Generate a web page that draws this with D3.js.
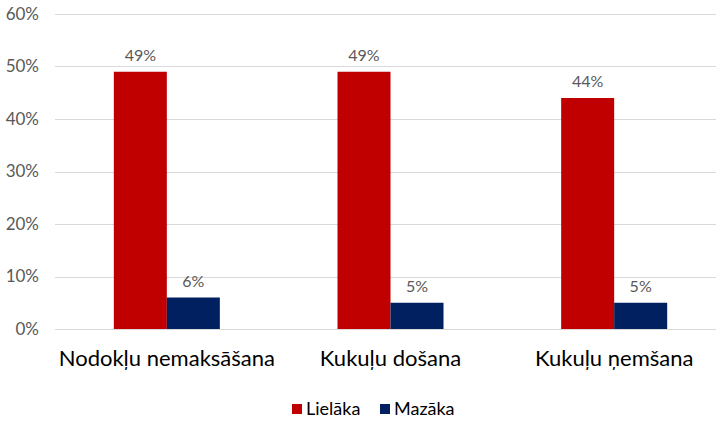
<!DOCTYPE html>
<html><head><meta charset="utf-8">
<script src="https://cdn.jsdelivr.net/npm/d3@7"></script>
<style>body{margin:0;background:#fff}svg{display:block}text{font-family:Lato,"Open Sans",sans-serif}</style>
</head><body><svg id="c" width="717" height="426"></svg>
<script>
const categories = ["Nodokļu nemaksāšana", "Kukuļu došana", "Kukuļu ņemšana"];
const seriesNames = ["Lielāka", "Mazāka"];
const lielaka = [49, 49, 44];
const mazaka = [6, 5, 5];
const yTicks = [0, 10, 20, 30, 40, 50, 60];
const colors = ["#C00000", "#002060"];

const svg = d3.select("#c");
const x = d3.scaleBand().domain(categories).range([55, 726]).paddingInner(0.526).paddingOuter(0.263);
const xs = d3.scaleBand().domain(seriesNames).range([0, x.bandwidth()]);
const y = d3.scaleLinear().domain([0, 60]).range([329, 14]);

// gridlines
svg.append("g").selectAll("line").data(yTicks).join("line")
  .attr("x1", 55).attr("x2", 716)
  .attr("y1", d => Math.round(y(d)) + 0.5).attr("y2", d => Math.round(y(d)) + 0.5)
  .attr("stroke", "#D9D9D9").attr("stroke-width", 1);

// y axis labels
const yAxis = d3.axisLeft(y).tickValues(yTicks).tickFormat(d => d + "%").tickSize(0).tickPadding(0);
const ya = svg.append("g").attr("transform", "translate(39,0)").call(yAxis);
ya.select(".domain").remove();
ya.selectAll("text").attr("font-size", 17).attr("fill", "#595959").attr("font-family", "Lato, sans-serif");

const data = [lielaka, mazaka];
data.forEach((vals, si) => {
  const g = svg.append("g");
  g.selectAll("rect").data(vals).join("rect")
    .attr("x", (d, i) => x(categories[i]) + xs(seriesNames[si]))
    .attr("width", xs.bandwidth())
    .attr("y", d => y(d))
    .attr("height", d => y(0) - y(d))
    .attr("fill", colors[si]);
  g.selectAll("text").data(vals).join("text")
    .attr("x", (d, i) => x(categories[i]) + xs(seriesNames[si]) + xs.bandwidth() / 2)
    .attr("y", d => y(d) - 11)
    .attr("text-anchor", "middle")
    .attr("font-size", 16).attr("fill", "#595959")
    .text(d => d + "%");
});

// x axis labels
const xAxis = d3.axisBottom(x).tickSize(0).tickPadding(0);
const xa = svg.append("g").attr("transform", "translate(0,350)").call(xAxis);
xa.select(".domain").remove();
xa.selectAll("text").attr("font-size", 22).attr("fill", "#000").attr("font-family", "Lato, sans-serif");

// legend
const legend = svg.append("g").attr("transform", "translate(292,404)");
const lx = [0, 88];
seriesNames.forEach((s, i) => {
  legend.append("rect").attr("x", lx[i]).attr("y", 0).attr("width", 10).attr("height", 10).attr("fill", colors[i]);
  legend.append("text").attr("x", lx[i] + 14).attr("y", 11).attr("font-size", 18).attr("fill", "#000").text(s);
});
</script></body></html>
